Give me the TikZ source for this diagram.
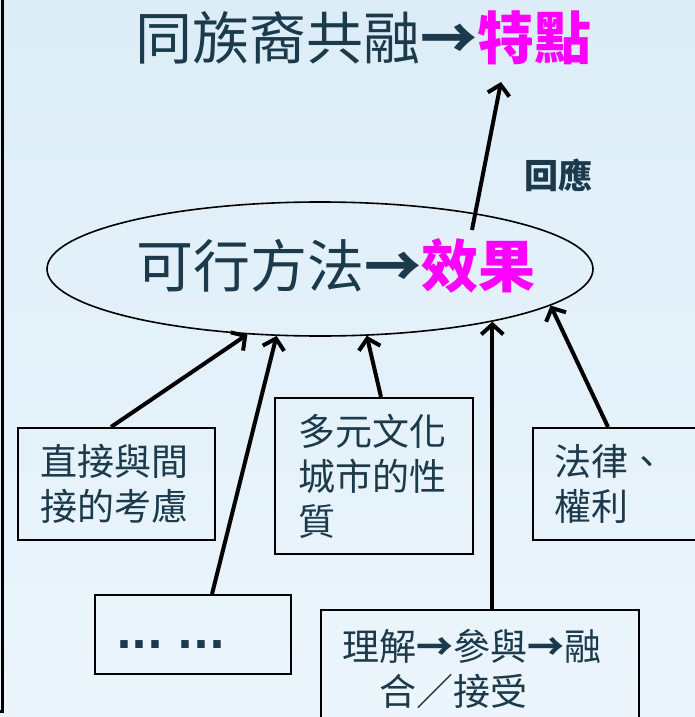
\documentclass[tikz,border=0pt]{standalone}
\usepackage{fontspec}
\setmainfont{Noto Sans CJK TC}
\newfontfamily\dotfont{DejaVu Sans}
\usetikzlibrary{arrows.meta,shapes.geometric}
\definecolor{ink}{HTML}{1B3A4C}
\definecolor{mag}{HTML}{FF00FF}
\definecolor{bgtop}{HTML}{DCEDF7}
\definecolor{bgbot}{HTML}{ECF5FC}
\tikzset{
  boxnode/.style={draw=black, line width=2pt, anchor=north west, align=left,
    text=ink, font=\fontsize{37}{45}\selectfont, inner ysep=0pt},
  arr/.style={line width=4pt, -{Straight Barb[length=10pt,width=22pt]}},
  bigtext/.style={text=ink, font=\fontsize{57}{60}\selectfont, inner sep=0pt}
}
\begin{document}
\begin{tikzpicture}[x=1pt,y=-1pt]
\useasboundingbox (0,0) rectangle (695,717);
\shade[top color=bgtop,bottom color=bgbot] (0,0) rectangle (695,717);
\begin{scope}
\clip (0,0) rectangle (695,717);
\draw[line width=3pt] (2,-5) -- (2,711) -- (-2,711);

\node[bigtext] (title) at (363,38) {同族裔共融{\bfseries→}{\bfseries\color{mag}特點}};

\node[draw=black, line width=1.6pt, ellipse, minimum width=546, minimum height=134, inner sep=0pt] (ell) at (320,269) {};
\node[bigtext] (elltext) at (336,266) {可行方法{\bfseries→}{\bfseries\color{mag}效果}};

\node[text=ink, font=\fontsize{34}{36}\selectfont\bfseries, inner sep=0pt] (huiying) at (558,175) {回應};

\node[boxnode, text width=153, inner xsep=22, minimum height=112] (b1) at (17,427) {直接與間\\接的考慮};
\node[boxnode, text width=152, inner xsep=23, minimum height=156] (b2) at (274,397) {多元文化\\城市的性\\質};
\node[boxnode, text width=186, inner xsep=21, minimum height=112] (b3) at (532,427) {法律、\\權利};
\node[boxnode, text width=154, inner xsep=21, minimum height=79] (b4) at (94,594) {\vphantom{理}{\dotfont\fontsize{42}{45}\selectfont\bfseries ...\,\,...}};
\node[boxnode, text width=276, inner xsep=21, minimum height=117] (b5) at (320,609) {理解{\bfseries→}參與{\bfseries→}融\\\hspace*{37pt}合／接受};

\coordinate (upfrom) at (472,230);
\coordinate (upto) at (501,82);
\draw[arr] (upfrom) -- (upto);

\draw[arr] ([xshift=-5.5]b1.north) -- (ell.-138.9);
\draw[arr] ([xshift=19]b4.north) -- (ell.-123.1);
\draw[arr] ([xshift=7]b2.north) -- (ell.-55.7);
\draw[arr] (ell.-17.8 |- b5.north) -- (ell.-17.8);
\draw[arr] ([xshift=-39]b3.north) -- (ell.-9.2);
\end{scope}
\end{tikzpicture}
\end{document}
